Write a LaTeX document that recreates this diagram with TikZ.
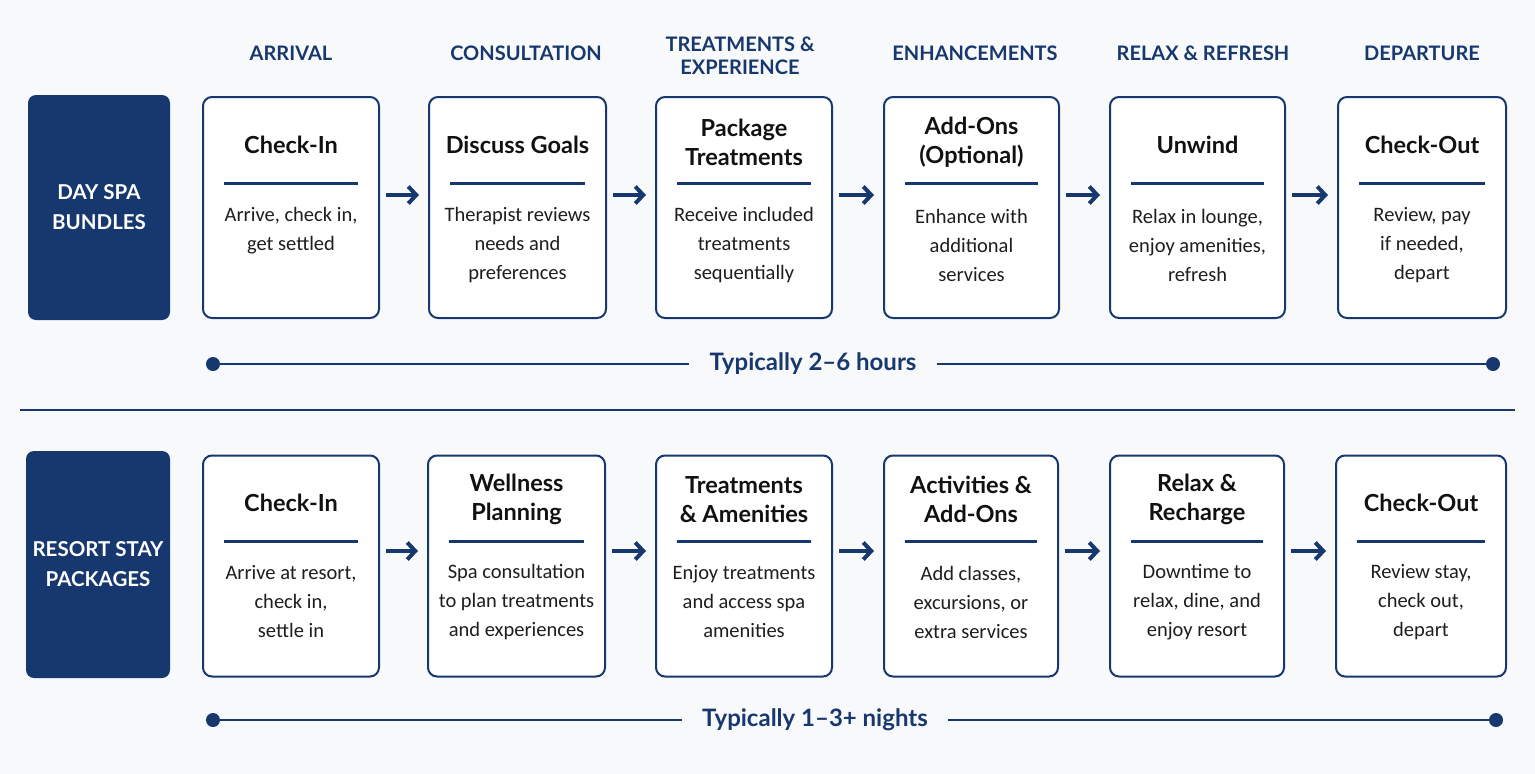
\documentclass[tikz,border=0pt]{standalone}
\usepackage{fontspec}
\setmainfont{Lato}
\newfontfamily\bodyfont{Carlito}
\usetikzlibrary{arrows.meta,calc}
\definecolor{navy}{HTML}{17386E}
\definecolor{bgc}{HTML}{F8F9FB}
\definecolor{ink}{HTML}{111111}
\definecolor{bodyc}{HTML}{1E1E1E}
\tikzset{
 stepbox/.style={draw=navy, line width=2pt, rounded corners=9pt, fill=white, minimum height=221pt, inner sep=0pt},
 labelbox/.style={fill=navy, rounded corners=8pt, text=white, font=\bfseries\fontsize{20.5}{30}\selectfont, align=center, inner sep=0pt},
 colhead/.style={text=navy, font=\bfseries\fontsize{20}{23}\selectfont, align=center},
 steptitle/.style={text=ink, font=\bfseries\fontsize{23.5}{29}\selectfont, align=center},
 stepbody/.style={text=bodyc, font=\bodyfont\fontsize{20.5}{29}\selectfont, align=center},
 flow/.style={draw=navy, line width=4pt, shorten <=6pt, shorten >=9pt, -{Straight Barb[length=8pt,width=17pt]}},
 divider/.style={draw=navy, line width=3pt},
 tline/.style={draw=navy, line width=2.5pt},
 tdot/.style={circle, fill=navy, minimum size=14pt, inner sep=0pt},
 tlabel/.style={text=navy, font=\bfseries\fontsize{24}{28}\selectfont, inner xsep=20pt},
 sepline/.style={draw=navy, line width=1.5pt},
}
\newcommand\mkstep[8]{%
 \node[stepbox, minimum width=#4] (#1) at (#2,#3) {};
 \node[steptitle] (#1t) at (#2,#5) {#6};
 \node[stepbody] (#1b) at (#2,#7) {#8};
 \draw[divider] ($(#1.north west)+(22,87)$) -- ($(#1.north east)+(-22,87)$);
}
\begin{document}
\begin{tikzpicture}[x=1pt,y=-1pt]
\useasboundingbox (0,0) rectangle (1535,774);
\fill[bgc] (0,0) rectangle (1535,774);

% column headers
\node[colhead] (h1) at (291,53) {ARRIVAL};
\node[colhead] (h2) at (526,53) {CONSULTATION};
\node[colhead] (h3) at (740,55.5) {TREATMENTS \&\\EXPERIENCE};
\node[colhead] (h4) at (975,53) {ENHANCEMENTS};
\node[colhead] (h5) at (1203,53) {RELAX \& REFRESH};
\node[colhead] (h6) at (1422,53) {DEPARTURE};

% top row
\node[labelbox, minimum width=142pt, minimum height=225pt] (L1) at (99,207.5) {DAY SPA\\BUNDLES};
\mkstep{a1}{291}{207.5}{176}{145}{Check-In}{230.5}{Arrive, check in,\\get settled}
\mkstep{a2}{517.5}{207.5}{177}{145}{Discuss Goals}{245}{Therapist reviews\\needs and\\preferences}
\mkstep{a3}{744}{207.5}{176}{142.5}{Package\\Treatments}{245}{Receive included\\treatments\\sequentially}
\mkstep{a4}{971.5}{207.5}{175}{142.5}{Add-Ons\\(Optional)}{245}{Enhance with\\additional\\services}
\mkstep{a5}{1197.5}{207.5}{175}{145}{Unwind}{245}{Relax in lounge,\\enjoy amenities,\\refresh}
\mkstep{a6}{1422}{207.5}{168}{145}{Check-Out}{245}{Review, pay\\if needed,\\depart}
\foreach \p/\q in {a1/a2,a2/a3,a3/a4,a4/a5,a5/a6}
  \draw[flow] ([yshift=12.5pt]\p.east) -- ([yshift=12.5pt]\q.west);

% top timeline
\node[tdot] (d1) at (213,364) {};
\node[tdot] (d2) at (1493,364) {};
\node[tlabel] (T1) at (813,364) {Typically 2–6 hours};
\draw[tline] (d1) -- (T1.west);
\draw[tline] (T1.east) -- (d2);

% separator
\coordinate (s1) at (20,410);
\coordinate (s2) at (1515,410);
\draw[sepline] (s1) -- (s2);

% bottom row
\node[labelbox, minimum width=144pt, minimum height=227pt] (L2) at (98,564.5) {RESORT STAY\\PACKAGES};
\mkstep{b1}{291}{566}{176}{503}{Check-In}{602}{Arrive at resort,\\check in,\\settle in}
\mkstep{b2}{516.5}{566}{177}{499.5}{Wellness\\Planning}{602}{Spa consultation\\to plan treatments\\and experiences}
\mkstep{b3}{744}{566}{176}{499.5}{Treatments\\\& Amenities}{602}{Enjoy treatments\\and access spa\\amenities}
\mkstep{b4}{971}{566}{174}{499.5}{Activities \&\\Add-Ons}{602}{Add classes,\\excursions, or\\extra services}
\mkstep{b5}{1197}{566}{174}{499.5}{Relax \&\\Recharge}{602}{Downtime to\\relax, dine, and\\enjoy resort}
\mkstep{b6}{1421}{566}{170}{503}{Check-Out}{602}{Review stay,\\check out,\\depart}
\foreach \p/\q in {b1/b2,b2/b3,b3/b4,b4/b5,b5/b6}
  \draw[flow] ([yshift=15pt]\p.east) -- ([yshift=15pt]\q.west);

% bottom timeline
\node[tdot] (d3) at (213,720) {};
\node[tdot] (d4) at (1496,720) {};
\node[tlabel] (T2) at (815,720) {Typically 1–3+ nights};
\draw[tline] (d3) -- (T2.west);
\draw[tline] (T2.east) -- (d4);
\end{tikzpicture}
\end{document}
